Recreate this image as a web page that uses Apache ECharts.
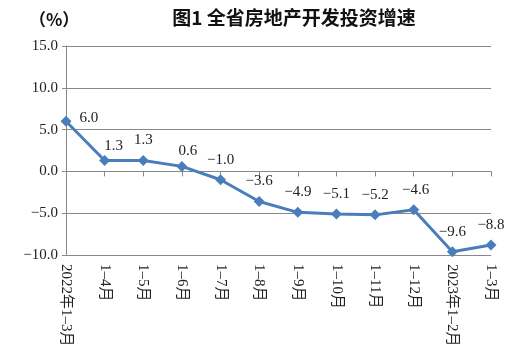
<!DOCTYPE html>
<html>
<head>
<meta charset="utf-8">
<script src="https://cdn.jsdelivr.net/npm/echarts@6/dist/echarts.min.js"></script>
<style>
html,body{margin:0;padding:0;background:#fff;}
#chart{width:520px;height:353px;}
</style>
</head>
<body>
<div id="chart"></div>
<script>
// 月份类目
var months = ['2022年1–3月', '1–4月', '1–5月', '1–6月', '1–7月', '1–8月', '1–9月', '1–10月', '1–11月', '1–12月', '2023年1–2月', '1–3月'];
// 增速 (%)
var growth = [6.0, 1.3, 1.3, 0.6, -1.0, -3.6, -4.9, -5.1, -5.2, -4.6, -9.6, -8.8];
var yTicks = [-10, -5, 0, 5, 10, 15];

var serif = '"Liberation Serif", "DejaVu Serif", "Noto Sans CJK SC", serif';

function fmt(v) {
    var s = Math.abs(v).toFixed(1);
    return v < 0 ? '\u2212' + s : s;
}

var chart = echarts.init(document.getElementById('chart'));

// 个别标签位置微调
var seriesData = growth.map(function (v, i) {
    var item = {value: v};
    if (i == 0) {
        item.label = {position: 'right', distance: 8, offset: [0, -3]};
    } else if (i == 1) {
        item.label = {offset: [9, 6]};
    } else if (i == 3) {
        item.label = {offset: [6, 5]};
    } else if (i == 9) {
        item.label = {offset: [2, 0]};
    }
    return item;
});

var option = {
    animation: false,
    title: [{
        text: '图1 全省房地产开发投资增速',
        left: 289,
        top: 3,
        textAlign: 'center',
        textStyle: {
            fontFamily: '"Noto Sans CJK SC", sans-serif',
            fontSize: 19,
            fontWeight: 'bold',
            color: '#111'
        }
    }, {
        text: '（%）',
        left: 24,
        top: 6,
        textStyle: {
            fontFamily: '"Noto Sans CJK SC", sans-serif',
            fontSize: 17,
            fontWeight: 'bold',
            color: '#111'
        }
    }],
    grid: {
        left: 66,
        right: 29,
        top: 46,
        bottom: 98
    },
    xAxis: {
        type: 'category',
        boundaryGap: false,
        data: months,
        axisLine: {lineStyle: {color: '#888', width: 1}},
        axisTick: {show: true, alignWithLabel: true, length: 5, lineStyle: {color: '#888'}},
        axisLabel: {
            rotate: -90,
            interval: 0,
            margin: 9,
            color: '#222',
            fontSize: 15,
            fontFamily: serif
        }
    },
    yAxis: {
        type: 'value',
        min: yTicks[0],
        max: yTicks[yTicks.length - 1],
        interval: 5,
        axisLine: {show: true, lineStyle: {color: '#888', width: 1}},
        axisTick: {show: true, length: 4, lineStyle: {color: '#888'}},
        splitLine: {lineStyle: {color: '#888', width: 1}},
        axisLabel: {
            color: '#222',
            fontSize: 15,
            fontFamily: serif,
            margin: 8,
            formatter: function (v) { return fmt(v); }
        }
    },
    series: [{
        type: 'line',
        data: seriesData,
        symbol: 'diamond',
        symbolSize: 11,
        lineStyle: {color: '#4a7ebb', width: 3},
        itemStyle: {color: '#4a7ebb'},
        label: {
            show: true,
            position: 'top',
            distance: 7,
            color: '#222',
            fontSize: 15,
            fontFamily: serif,
            formatter: function (p) { return fmt(p.value); }
        }
    }]
};

chart.setOption(option);
</script>
</body>
</html>
